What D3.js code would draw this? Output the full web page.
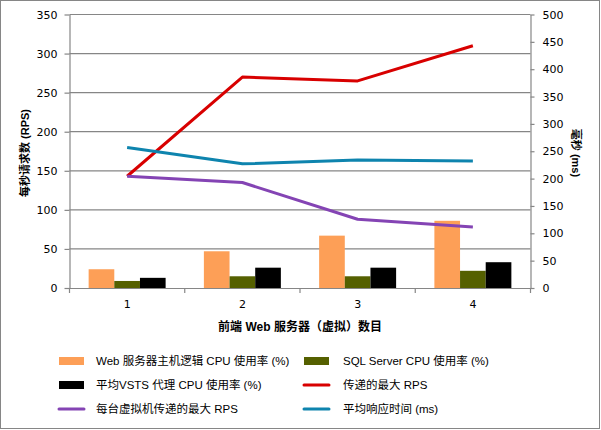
<!DOCTYPE html>
<html>
<head>
<meta charset="utf-8">
<script src="https://cdn.jsdelivr.net/npm/d3@7"></script>
<style>
  body { margin: 0; background: #fff; }
  text { font-family: "DejaVu Sans", "Noto Sans CJK SC", sans-serif; }
  .zh { font-family: "Liberation Sans", "Noto Sans CJK SC", sans-serif; }
</style>
</head>
<body>
<div id="chart"></div>
<script>
const servers = [1, 2, 3, 4];
const webCpu = [24, 47, 67, 86];
const sqlCpu = [9, 15, 15, 22];
const agentCpu = [13, 26, 26, 33];
const maxRps = [143, 270, 265, 310];
const maxRpsPerVm = [143, 135, 88, 78];
const avgResponse = [257, 227, 234, 232];
const leftTicks = [0, 50, 100, 150, 200, 250, 300, 350];
const rightTicks = [0, 50, 100, 150, 200, 250, 300, 350, 400, 450, 500];

const barSeries = [
  { name: "Web 服务器主机逻辑 CPU 使用率 (%)", values: webCpu, color: "#fd9f57" },
  { name: "SQL Server CPU 使用率 (%)", values: sqlCpu, color: "#556000" },
  { name: "平均VSTS 代理 CPU 使用率 (%)", values: agentCpu, color: "#000000" }
];
const lineSeries = [
  { name: "传递的最大 RPS", values: maxRps, color: "#d80000", axis: "left" },
  { name: "每台虚拟机传递的最大 RPS", values: maxRpsPerVm, color: "#8444b4", axis: "left" },
  { name: "平均响应时间 (ms)", values: avgResponse, color: "#0e84ae", axis: "right" }
];

const svg = d3.select("#chart").append("svg")
  .attr("width", 601).attr("height", 430);

svg.append("rect")
  .attr("x", 0.5).attr("y", 0.5).attr("width", 599).attr("height", 428)
  .attr("fill", "#fff").attr("stroke", "#868686");

const plotLeft = 69.5, plotRight = 530.5, plotTop = 14.5, plotBottom = 288;
const grey = "#868686";

const x0 = d3.scaleBand().domain(servers).range([plotLeft, plotRight]);
const bw = x0.bandwidth();
const x1 = d3.scaleBand().domain(d3.range(barSeries.length)).range([0, bw * 0.668]);
const y = d3.scaleLinear().domain([0, 350]).range([plotBottom, plotTop]);
const y2 = d3.scaleLinear().domain([0, 500]).range([plotBottom, plotTop]);

// gridlines
svg.append("g").selectAll("line")
  .data(leftTicks.slice(1))
  .join("line")
  .attr("x1", plotLeft).attr("x2", plotRight)
  .attr("y1", d => y(d)).attr("y2", d => y(d))
  .attr("stroke", grey).attr("stroke-width", 1.2);

// bars
const offset = (bw - bw * 0.668) / 2;
barSeries.forEach((s, i) => {
  svg.append("g").selectAll("rect")
    .data(s.values)
    .join("rect")
    .attr("x", (d, j) => x0(servers[j]) + offset + x1(i))
    .attr("y", d => y(d))
    .attr("width", x1.bandwidth())
    .attr("height", d => plotBottom - y(d))
    .attr("fill", s.color);
});

// axes
const styleAxis = g => {
  g.select(".domain").attr("stroke", grey).attr("stroke-width", 1.2);
  g.selectAll(".tick line").attr("stroke", grey).attr("stroke-width", 1.2);
  g.selectAll(".tick text").attr("font-size", 11).attr("fill", "#000")
    .style("font-family", "'DejaVu Sans', sans-serif");
};

svg.append("g")
  .attr("transform", `translate(${plotLeft},0)`)
  .call(d3.axisLeft(y).tickValues(leftTicks).tickSize(5).tickSizeOuter(0).tickPadding(7))
  .call(styleAxis);

svg.append("g")
  .attr("transform", `translate(${plotRight},0)`)
  .call(d3.axisRight(y2).tickValues(rightTicks).tickSize(4).tickSizeOuter(0).tickPadding(8))
  .call(styleAxis);

svg.append("g")
  .attr("transform", `translate(0,${plotBottom})`)
  .call(d3.axisBottom(x0).tickSize(0).tickPadding(12))
  .call(styleAxis);

svg.append("g").selectAll("line")
  .data(d3.range(servers.length + 1))
  .join("line")
  .attr("x1", i => plotLeft + i * bw).attr("x2", i => plotLeft + i * bw)
  .attr("y1", plotBottom).attr("y2", plotBottom + 5)
  .attr("stroke", grey).attr("stroke-width", 1.2);

// lines
lineSeries.forEach(s => {
  const sc = s.axis === "left" ? y : y2;
  const line = d3.line()
    .x((d, j) => x0(servers[j]) + bw / 2)
    .y(d => sc(d));
  svg.append("path")
    .datum(s.values)
    .attr("d", line)
    .attr("fill", "none")
    .attr("stroke", s.color)
    .attr("stroke-width", 3)
    .attr("stroke-linejoin", "round");
});

// axis titles
svg.append("text")
  .attr("class", "zh")
  .attr("transform", `translate(29,153) rotate(-90)`)
  .attr("text-anchor", "middle")
  .attr("font-size", 11).attr("font-weight", "bold")
  .text("每秒请求数 (RPS)");

svg.append("text")
  .attr("class", "zh")
  .attr("transform", `translate(572,153) rotate(90)`)
  .attr("text-anchor", "middle")
  .attr("font-size", 11).attr("font-weight", "bold")
  .text("毫秒 (ms)");

svg.append("text")
  .attr("class", "zh")
  .attr("x", 300).attr("y", 331)
  .attr("text-anchor", "middle")
  .attr("font-size", 12).attr("font-weight", 600)
  .text("前端 Web 服务器（虚拟）数目");

// legend
const legendItems = [
  { s: barSeries[0], type: "bar" }, { s: barSeries[1], type: "bar" },
  { s: barSeries[2], type: "bar" }, { s: lineSeries[0], type: "line" },
  { s: lineSeries[1], type: "line" }, { s: lineSeries[2], type: "line" }
];
const colX = [59, 304], textX = [96, 343], rowY = [361, 385, 409];

const lg = svg.append("g").selectAll("g")
  .data(legendItems)
  .join("g")
  .attr("transform", (d, i) => `translate(${colX[i % 2]},${rowY[Math.floor(i / 2)]})`);

lg.filter(d => d.type === "bar").append("rect")
  .attr("x", 0).attr("y", -4).attr("width", 25).attr("height", 8)
  .attr("fill", d => d.s.color);

lg.filter(d => d.type === "line").append("line")
  .attr("x1", 0).attr("x2", 25).attr("y1", 0).attr("y2", 0)
  .attr("stroke", d => d.s.color).attr("stroke-width", 3)
  .attr("stroke-linecap", "round");

lg.append("text")
  .attr("class", "zh")
  .attr("x", (d, i) => textX[i % 2] - colX[i % 2])
  .attr("y", 4)
  .attr("font-size", 11.5)
  .text(d => d.s.name);
</script>
</body>
</html>
